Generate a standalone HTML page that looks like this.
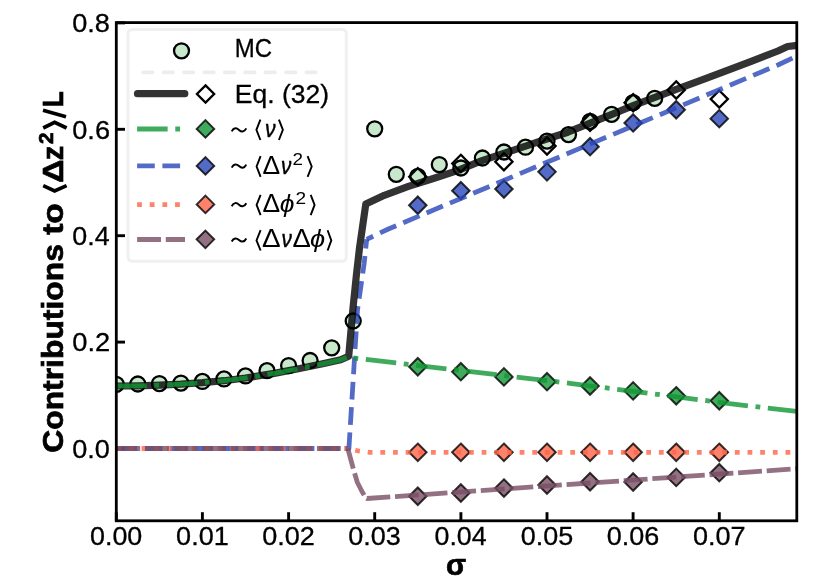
<!DOCTYPE html>
<html><head><meta charset="utf-8"><title>chart</title>
<style>html,body{margin:0;padding:0;background:#fff}svg{display:block;will-change:transform}text{font-family:"Liberation Sans",sans-serif;fill:#000;font-kerning:none}</style></head><body>
<svg width="830" height="579" viewBox="0 0 830 579">
<rect width="830" height="579" fill="#fff"/>
<defs><clipPath id="ax"><rect x="116.3" y="22.6" width="680.5" height="498.2"/></clipPath></defs>
<line x1="116.3" y1="520.9" x2="116.3" y2="512.2" stroke="#000" stroke-width="2.9"/>
<line x1="202.4" y1="520.9" x2="202.4" y2="512.2" stroke="#000" stroke-width="2.9"/>
<line x1="288.6" y1="520.9" x2="288.6" y2="512.2" stroke="#000" stroke-width="2.9"/>
<line x1="374.7" y1="520.9" x2="374.7" y2="512.2" stroke="#000" stroke-width="2.9"/>
<line x1="460.9" y1="520.9" x2="460.9" y2="512.2" stroke="#000" stroke-width="2.9"/>
<line x1="547.0" y1="520.9" x2="547.0" y2="512.2" stroke="#000" stroke-width="2.9"/>
<line x1="633.1" y1="520.9" x2="633.1" y2="512.2" stroke="#000" stroke-width="2.9"/>
<line x1="719.3" y1="520.9" x2="719.3" y2="512.2" stroke="#000" stroke-width="2.9"/>
<line x1="116.3" y1="448.5" x2="125.0" y2="448.5" stroke="#000" stroke-width="2.9"/>
<line x1="116.3" y1="342.1" x2="125.0" y2="342.1" stroke="#000" stroke-width="2.9"/>
<line x1="116.3" y1="235.7" x2="125.0" y2="235.7" stroke="#000" stroke-width="2.9"/>
<line x1="116.3" y1="129.3" x2="125.0" y2="129.3" stroke="#000" stroke-width="2.9"/>
<line x1="116.3" y1="22.9" x2="125.0" y2="22.9" stroke="#000" stroke-width="2.9"/>
<g clip-path="url(#ax)">
<path d="M417.79,358.03 L426.54,366.78 L417.79,375.53 L409.04,366.78 Z" fill="#129635" stroke="#000" stroke-width="2.0" stroke-linejoin="miter" stroke-opacity="0.8" fill-opacity="0.8"/>
<path d="M460.86,362.93 L469.61,371.68 L460.86,380.43 L452.11,371.68 Z" fill="#129635" stroke="#000" stroke-width="2.0" stroke-linejoin="miter" stroke-opacity="0.8" fill-opacity="0.8"/>
<path d="M503.93,368.14 L512.68,376.89 L503.93,385.64 L495.18,376.89 Z" fill="#129635" stroke="#000" stroke-width="2.0" stroke-linejoin="miter" stroke-opacity="0.8" fill-opacity="0.8"/>
<path d="M547.00,372.93 L555.75,381.68 L547.00,390.43 L538.25,381.68 Z" fill="#129635" stroke="#000" stroke-width="2.0" stroke-linejoin="miter" stroke-opacity="0.8" fill-opacity="0.8"/>
<path d="M590.07,377.24 L598.82,385.99 L590.07,394.74 L581.32,385.99 Z" fill="#129635" stroke="#000" stroke-width="2.0" stroke-linejoin="miter" stroke-opacity="0.8" fill-opacity="0.8"/>
<path d="M633.14,382.13 L641.89,390.88 L633.14,399.63 L624.39,390.88 Z" fill="#129635" stroke="#000" stroke-width="2.0" stroke-linejoin="miter" stroke-opacity="0.8" fill-opacity="0.8"/>
<path d="M676.21,387.08 L684.96,395.83 L676.21,404.58 L667.46,395.83 Z" fill="#129635" stroke="#000" stroke-width="2.0" stroke-linejoin="miter" stroke-opacity="0.8" fill-opacity="0.8"/>
<path d="M719.28,391.98 L728.03,400.73 L719.28,409.48 L710.53,400.73 Z" fill="#129635" stroke="#000" stroke-width="2.0" stroke-linejoin="miter" stroke-opacity="0.8" fill-opacity="0.8"/>
<path d="M417.79,196.47 L426.54,205.22 L417.79,213.97 L409.04,205.22 Z" fill="#2846b8" stroke="#000" stroke-width="2.0" stroke-linejoin="miter" stroke-opacity="0.8" fill-opacity="0.8"/>
<path d="M460.86,181.94 L469.61,190.69 L460.86,199.44 L452.11,190.69 Z" fill="#2846b8" stroke="#000" stroke-width="2.0" stroke-linejoin="miter" stroke-opacity="0.8" fill-opacity="0.8"/>
<path d="M503.93,180.24 L512.68,188.99 L503.93,197.74 L495.18,188.99 Z" fill="#2846b8" stroke="#000" stroke-width="2.0" stroke-linejoin="miter" stroke-opacity="0.8" fill-opacity="0.8"/>
<path d="M547.00,163.11 L555.75,171.86 L547.00,180.61 L538.25,171.86 Z" fill="#2846b8" stroke="#000" stroke-width="2.0" stroke-linejoin="miter" stroke-opacity="0.8" fill-opacity="0.8"/>
<path d="M590.07,137.95 L598.82,146.70 L590.07,155.45 L581.32,146.70 Z" fill="#2846b8" stroke="#000" stroke-width="2.0" stroke-linejoin="miter" stroke-opacity="0.8" fill-opacity="0.8"/>
<path d="M633.14,114.17 L641.89,122.92 L633.14,131.67 L624.39,122.92 Z" fill="#2846b8" stroke="#000" stroke-width="2.0" stroke-linejoin="miter" stroke-opacity="0.8" fill-opacity="0.8"/>
<path d="M676.21,100.97 L684.96,109.72 L676.21,118.47 L667.46,109.72 Z" fill="#2846b8" stroke="#000" stroke-width="2.0" stroke-linejoin="miter" stroke-opacity="0.8" fill-opacity="0.8"/>
<path d="M719.28,109.91 L728.03,118.66 L719.28,127.41 L710.53,118.66 Z" fill="#2846b8" stroke="#000" stroke-width="2.0" stroke-linejoin="miter" stroke-opacity="0.8" fill-opacity="0.8"/>
<path d="M417.79,443.58 L426.54,452.33 L417.79,461.08 L409.04,452.33 Z" fill="#ff6347" stroke="#000" stroke-width="2.0" stroke-linejoin="miter" stroke-opacity="0.8" fill-opacity="0.8"/>
<path d="M460.86,443.58 L469.61,452.33 L460.86,461.08 L452.11,452.33 Z" fill="#ff6347" stroke="#000" stroke-width="2.0" stroke-linejoin="miter" stroke-opacity="0.8" fill-opacity="0.8"/>
<path d="M503.93,443.58 L512.68,452.33 L503.93,461.08 L495.18,452.33 Z" fill="#ff6347" stroke="#000" stroke-width="2.0" stroke-linejoin="miter" stroke-opacity="0.8" fill-opacity="0.8"/>
<path d="M547.00,443.58 L555.75,452.33 L547.00,461.08 L538.25,452.33 Z" fill="#ff6347" stroke="#000" stroke-width="2.0" stroke-linejoin="miter" stroke-opacity="0.8" fill-opacity="0.8"/>
<path d="M590.07,443.58 L598.82,452.33 L590.07,461.08 L581.32,452.33 Z" fill="#ff6347" stroke="#000" stroke-width="2.0" stroke-linejoin="miter" stroke-opacity="0.8" fill-opacity="0.8"/>
<path d="M633.14,443.58 L641.89,452.33 L633.14,461.08 L624.39,452.33 Z" fill="#ff6347" stroke="#000" stroke-width="2.0" stroke-linejoin="miter" stroke-opacity="0.8" fill-opacity="0.8"/>
<path d="M676.21,443.58 L684.96,452.33 L676.21,461.08 L667.46,452.33 Z" fill="#ff6347" stroke="#000" stroke-width="2.0" stroke-linejoin="miter" stroke-opacity="0.8" fill-opacity="0.8"/>
<path d="M719.28,443.58 L728.03,452.33 L719.28,461.08 L710.53,452.33 Z" fill="#ff6347" stroke="#000" stroke-width="2.0" stroke-linejoin="miter" stroke-opacity="0.8" fill-opacity="0.8"/>
<path d="M417.79,487.47 L426.54,496.22 L417.79,504.97 L409.04,496.22 Z" fill="#784e64" stroke="#000" stroke-width="2.0" stroke-linejoin="miter" stroke-opacity="0.8" fill-opacity="0.8"/>
<path d="M460.86,484.23 L469.61,492.98 L460.86,501.73 L452.11,492.98 Z" fill="#784e64" stroke="#000" stroke-width="2.0" stroke-linejoin="miter" stroke-opacity="0.8" fill-opacity="0.8"/>
<path d="M503.93,479.33 L512.68,488.08 L503.93,496.83 L495.18,488.08 Z" fill="#784e64" stroke="#000" stroke-width="2.0" stroke-linejoin="miter" stroke-opacity="0.8" fill-opacity="0.8"/>
<path d="M547.00,476.25 L555.75,485.00 L547.00,493.75 L538.25,485.00 Z" fill="#784e64" stroke="#000" stroke-width="2.0" stroke-linejoin="miter" stroke-opacity="0.8" fill-opacity="0.8"/>
<path d="M590.07,473.00 L598.82,481.75 L590.07,490.50 L581.32,481.75 Z" fill="#784e64" stroke="#000" stroke-width="2.0" stroke-linejoin="miter" stroke-opacity="0.8" fill-opacity="0.8"/>
<path d="M633.14,473.27 L641.89,482.02 L633.14,490.77 L624.39,482.02 Z" fill="#784e64" stroke="#000" stroke-width="2.0" stroke-linejoin="miter" stroke-opacity="0.8" fill-opacity="0.8"/>
<path d="M676.21,468.64 L684.96,477.39 L676.21,486.14 L667.46,477.39 Z" fill="#784e64" stroke="#000" stroke-width="2.0" stroke-linejoin="miter" stroke-opacity="0.8" fill-opacity="0.8"/>
<path d="M719.28,463.96 L728.03,472.71 L719.28,481.46 L710.53,472.71 Z" fill="#784e64" stroke="#000" stroke-width="2.0" stroke-linejoin="miter" stroke-opacity="0.8" fill-opacity="0.8"/>
<circle cx="116.3" cy="384.3" r="7.5" fill="#c8e8cb" stroke="#000" stroke-width="2.3"/>
<circle cx="137.8" cy="384.0" r="7.5" fill="#c8e8cb" stroke="#000" stroke-width="2.3"/>
<circle cx="159.4" cy="383.6" r="7.5" fill="#c8e8cb" stroke="#000" stroke-width="2.3"/>
<circle cx="180.9" cy="383.1" r="7.5" fill="#c8e8cb" stroke="#000" stroke-width="2.3"/>
<circle cx="202.4" cy="381.4" r="7.5" fill="#c8e8cb" stroke="#000" stroke-width="2.3"/>
<circle cx="224.0" cy="378.9" r="7.5" fill="#c8e8cb" stroke="#000" stroke-width="2.3"/>
<circle cx="245.5" cy="375.9" r="7.5" fill="#c8e8cb" stroke="#000" stroke-width="2.3"/>
<circle cx="267.0" cy="370.7" r="7.5" fill="#c8e8cb" stroke="#000" stroke-width="2.3"/>
<circle cx="288.6" cy="365.6" r="7.5" fill="#c8e8cb" stroke="#000" stroke-width="2.3"/>
<circle cx="310.1" cy="360.5" r="7.5" fill="#c8e8cb" stroke="#000" stroke-width="2.3"/>
<circle cx="331.7" cy="347.8" r="7.5" fill="#c8e8cb" stroke="#000" stroke-width="2.3"/>
<circle cx="353.2" cy="321.0" r="7.5" fill="#c8e8cb" stroke="#000" stroke-width="2.3"/>
<circle cx="374.7" cy="128.8" r="7.5" fill="#c8e8cb" stroke="#000" stroke-width="2.3"/>
<circle cx="396.3" cy="174.3" r="7.5" fill="#c8e8cb" stroke="#000" stroke-width="2.3"/>
<circle cx="417.8" cy="176.3" r="7.5" fill="#c8e8cb" stroke="#000" stroke-width="2.3"/>
<circle cx="439.3" cy="164.6" r="7.5" fill="#c8e8cb" stroke="#000" stroke-width="2.3"/>
<circle cx="460.9" cy="168.0" r="7.5" fill="#c8e8cb" stroke="#000" stroke-width="2.3"/>
<circle cx="482.4" cy="158.0" r="7.5" fill="#c8e8cb" stroke="#000" stroke-width="2.3"/>
<circle cx="503.9" cy="152.0" r="7.5" fill="#c8e8cb" stroke="#000" stroke-width="2.3"/>
<circle cx="525.5" cy="147.2" r="7.5" fill="#c8e8cb" stroke="#000" stroke-width="2.3"/>
<circle cx="547.0" cy="141.1" r="7.5" fill="#c8e8cb" stroke="#000" stroke-width="2.3"/>
<circle cx="568.5" cy="134.6" r="7.5" fill="#c8e8cb" stroke="#000" stroke-width="2.3"/>
<circle cx="590.1" cy="121.3" r="7.5" fill="#c8e8cb" stroke="#000" stroke-width="2.3"/>
<circle cx="611.6" cy="114.3" r="7.5" fill="#c8e8cb" stroke="#000" stroke-width="2.3"/>
<circle cx="633.1" cy="102.7" r="7.5" fill="#c8e8cb" stroke="#000" stroke-width="2.3"/>
<circle cx="654.7" cy="98.3" r="7.5" fill="#c8e8cb" stroke="#000" stroke-width="2.3"/>
<path d="M417.79,168.05 L426.39,176.65 L417.79,185.25 L409.19,176.65 Z" fill="none" stroke="#000" stroke-width="2.3" stroke-linejoin="miter" />
<path d="M460.86,154.80 L469.46,163.40 L460.86,172.00 L452.26,163.40 Z" fill="none" stroke="#000" stroke-width="2.3" stroke-linejoin="miter" />
<path d="M503.93,153.10 L512.53,161.70 L503.93,170.30 L495.33,161.70 Z" fill="none" stroke="#000" stroke-width="2.3" stroke-linejoin="miter" />
<path d="M547.00,137.35 L555.60,145.95 L547.00,154.55 L538.40,145.95 Z" fill="none" stroke="#000" stroke-width="2.3" stroke-linejoin="miter" />
<path d="M590.07,113.62 L598.67,122.22 L590.07,130.82 L581.47,122.22 Z" fill="none" stroke="#000" stroke-width="2.3" stroke-linejoin="miter" />
<path d="M633.14,94.10 L641.74,102.70 L633.14,111.30 L624.54,102.70 Z" fill="none" stroke="#000" stroke-width="2.3" stroke-linejoin="miter" />
<path d="M676.21,81.39 L684.81,89.99 L676.21,98.59 L667.61,89.99 Z" fill="none" stroke="#000" stroke-width="2.3" stroke-linejoin="miter" />
<path d="M719.28,90.48 L727.88,99.08 L719.28,107.68 L710.68,99.08 Z" fill="none" stroke="#000" stroke-width="2.3" stroke-linejoin="miter" />
<polyline points="116.3,448.5 348.9,448.5 357.5,310.0 364.1,264.0 366.7,239.3" fill="none" stroke="#2846b8" stroke-opacity="0.8" stroke-width="4.78" stroke-linejoin="round" stroke-dasharray="17.67 7.64" stroke-dashoffset="22.04"/>
<polyline points="366.7,239.3 388.4,229.0 777.9,65.0 796.8,56.0" fill="none" stroke="#2846b8" stroke-opacity="0.8" stroke-width="4.78" stroke-linejoin="round" stroke-dasharray="17.67 7.64" stroke-dashoffset="10.48"/>
<polyline points="116.3,448.5 347.0,448.5" fill="none" stroke="#ff6347" stroke-opacity="0.8" stroke-width="4.78" stroke-linejoin="round" stroke-dasharray="4.78 7.88" stroke-dashoffset="0.00"/>
<polyline points="347.0,448.5 358.0,450.8 370.0,452.4 796.8,452.4" fill="none" stroke="#ff6347" stroke-opacity="0.8" stroke-width="4.78" stroke-linejoin="round" stroke-dasharray="4.78 7.88" stroke-dashoffset="4.26"/>
<polyline points="116.3,448.5 347.8,448.5" fill="none" stroke="#784e64" stroke-opacity="0.8" stroke-width="4.78" stroke-linejoin="round" stroke-dasharray="23.88 4.78" stroke-dashoffset="0.00"/>
<polyline points="347.8,448.5 353.9,471.0 357.4,482.5 362.0,491.5 365.6,497.6" fill="none" stroke="#784e64" stroke-opacity="0.8" stroke-width="4.78" stroke-linejoin="round" stroke-dasharray="23.88 4.78" stroke-dashoffset="2.93"/>
<polyline points="365.6,497.8 366.9,498.5 796.8,468.7" fill="none" stroke="#784e64" stroke-opacity="0.8" stroke-width="4.78" stroke-linejoin="round" stroke-dasharray="23.88 4.78" stroke-dashoffset="27.65"/>
<polyline points="116.3,386.0 137.8,385.8 159.4,385.2 180.9,384.2 202.4,382.7 224.0,380.7 245.5,378.0 256.0,376.3 274.2,373.4 298.4,368.8 322.6,363.8 340.7,359.8 348.7,356.2 353.0,308.0 356.4,275.0 359.5,248.0 365.8,204.1 384.3,195.3 408.4,186.4 432.6,178.7 456.7,170.8 482.0,160.7 525.6,146.1 546.7,139.0 567.8,132.2 590.2,123.2 611.3,114.7 633.1,105.6 654.2,97.6 676.3,89.3 702.7,79.6 730.0,69.3 751.2,61.3 777.9,51.0 787.6,46.5 795.3,45.6 801.1,45.2" fill="none" stroke="#000" stroke-opacity="0.8" stroke-width="7.2" stroke-linejoin="round" stroke-linecap="butt"/>
<polyline points="116.3,386.0 137.8,385.8 159.4,385.2 180.9,384.2 202.4,382.7 224.0,380.7 245.5,378.0 256.0,376.3 274.2,373.4 298.4,368.8 322.6,363.8 340.7,359.8 348.7,356.6" fill="none" stroke="#129635" stroke-opacity="0.8" stroke-width="4.78" stroke-linejoin="round" stroke-dasharray="30.56 7.64 4.78 7.64" stroke-dashoffset="0.12"/>
<polyline points="351.1,357.7 570.0,383.3 737.7,404.6 796.8,411.5" fill="none" stroke="#129635" stroke-opacity="0.8" stroke-width="4.78" stroke-linejoin="round" stroke-dasharray="30.56 7.64 4.78 7.64" stroke-dashoffset="35.80"/>
</g>
<rect x="116.3" y="22.6" width="680.5" height="498.2" fill="none" stroke="#000" stroke-width="2.8"/>
<text transform="translate(89.95,545.10) scale(1.0600,1)" font-size="25.40" stroke="#000" stroke-width="0.3">0.00</text>
<text transform="translate(176.08,545.10) scale(1.0656,1)" font-size="25.40" stroke="#000" stroke-width="0.3">0.01</text>
<text transform="translate(262.22,545.10) scale(1.0664,1)" font-size="25.40" stroke="#000" stroke-width="0.3">0.02</text>
<text transform="translate(348.37,545.10) scale(1.0628,1)" font-size="25.40" stroke="#000" stroke-width="0.3">0.03</text>
<text transform="translate(434.51,545.10) scale(1.0545,1)" font-size="25.40" stroke="#000" stroke-width="0.3">0.04</text>
<text transform="translate(520.65,545.10) scale(1.0617,1)" font-size="25.40" stroke="#000" stroke-width="0.3">0.05</text>
<text transform="translate(606.79,545.10) scale(1.0628,1)" font-size="25.40" stroke="#000" stroke-width="0.3">0.06</text>
<text transform="translate(692.92,545.10) scale(1.0664,1)" font-size="25.40" stroke="#000" stroke-width="0.3">0.07</text>
<text transform="translate(72.24,457.70) scale(1.0653,1)" font-size="25.40" stroke="#000" stroke-width="0.3">0.0</text>
<text transform="translate(72.23,351.30) scale(1.0745,1)" font-size="25.40" stroke="#000" stroke-width="0.3">0.2</text>
<text transform="translate(72.25,244.90) scale(1.0574,1)" font-size="25.40" stroke="#000" stroke-width="0.3">0.4</text>
<text transform="translate(72.24,138.50) scale(1.0692,1)" font-size="25.40" stroke="#000" stroke-width="0.3">0.6</text>
<text transform="translate(72.24,32.10) scale(1.0688,1)" font-size="25.40" stroke="#000" stroke-width="0.3">0.8</text>
<text transform="translate(446.05,575.40) scale(0.9972,1)" font-size="29.50" font-weight="bold" stroke="#000" stroke-width="0.7">σ</text>
<g transform="translate(63.3,0) rotate(-90)">
<text transform="translate(-452.81,0.00) scale(1.0800,1)" font-size="29.50" font-weight="bold" stroke="#000" stroke-width="0.7">Contributions</text>
<text transform="translate(-234.81,0.00) scale(1.1355,1)" font-size="29.50" font-weight="bold" stroke="#000" stroke-width="0.7">to</text>
<text transform="translate(-182.80,0.00) scale(1.0906,1)" font-size="29.50" font-weight="bold" stroke="#000" stroke-width="0.7">Δ</text>
<text transform="translate(-160.25,0.00) scale(0.9758,1)" font-size="29.50" font-weight="bold" stroke="#000" stroke-width="0.7">z</text>
<text transform="translate(-144.12,-10.00) scale(1.0083,1)" font-size="20.60" font-weight="bold" stroke="#000" stroke-width="0.7">2</text>
<text transform="translate(-107.16,0.00) scale(0.8917,1)" font-size="29.50" font-weight="bold" stroke="#000" stroke-width="0.7">L</text>
</g>
<polyline points="43.2,185.6 54.6,190.9 66.6,185.6" fill="none" stroke="#000" stroke-width="3.7" stroke-linejoin="miter"/>
<polyline points="43.2,128.0 54.6,122.4 66.6,128.0" fill="none" stroke="#000" stroke-width="3.7" stroke-linejoin="miter"/>
<line x1="43.0" y1="110.3" x2="66.0" y2="116.7" stroke="#000" stroke-width="3.6"/>
<rect x="128.0" y="29.4" width="218.3" height="231.9" rx="4.2" ry="4.2" fill="#fff" fill-opacity="0.5" stroke="#f0f0f0" stroke-width="3"/>
<circle cx="181.5" cy="50.8" r="7.5" fill="#c8e8cb" stroke="#000" stroke-width="2.3"/>
<line x1="143.1" y1="72.4" x2="317.0" y2="72.4" stroke="#ededed" stroke-width="3.6" stroke-linecap="round" stroke-dasharray="9.6 10.8"/>
<line x1="137.5" y1="93.7" x2="184.8" y2="93.7" stroke="#000" stroke-opacity="0.8" stroke-width="7.2" stroke-linecap="round"/>
<path d="M205.55,85.35 L214.15,93.95 L205.55,102.55 L196.95,93.95 Z" fill="#fff" stroke="#000" stroke-width="2.3" stroke-linejoin="miter" />
<line x1="137.1" y1="129.0" x2="185.0" y2="129.0" stroke="#129635" stroke-opacity="0.8" stroke-width="4.78" stroke-dasharray="30.56 7.64 4.78 7.64"/>
<path d="M205.45,120.15 L214.20,128.90 L205.45,137.65 L196.70,128.90 Z" fill="#129635" stroke="#000" stroke-width="2.0" stroke-linejoin="miter" stroke-opacity="0.8" fill-opacity="0.8"/>
<line x1="137.1" y1="165.8" x2="185.0" y2="165.8" stroke="#2846b8" stroke-opacity="0.8" stroke-width="4.78" stroke-dasharray="17.67 7.64"/>
<path d="M205.45,157.15 L214.20,165.90 L205.45,174.65 L196.70,165.90 Z" fill="#2846b8" stroke="#000" stroke-width="2.0" stroke-linejoin="miter" stroke-opacity="0.8" fill-opacity="0.8"/>
<line x1="137.1" y1="204.6" x2="185.0" y2="204.6" stroke="#ff6347" stroke-opacity="0.8" stroke-width="4.78" stroke-dasharray="4.78 7.88"/>
<path d="M205.45,195.65 L214.20,204.40 L205.45,213.15 L196.70,204.40 Z" fill="#ff6347" stroke="#000" stroke-width="2.0" stroke-linejoin="miter" stroke-opacity="0.8" fill-opacity="0.8"/>
<line x1="137.1" y1="239.5" x2="185.0" y2="239.5" stroke="#784e64" stroke-opacity="0.8" stroke-width="4.78" stroke-dasharray="23.88 4.78"/>
<path d="M205.40,230.60 L214.15,239.35 L205.40,248.10 L196.65,239.35 Z" fill="#784e64" stroke="#000" stroke-width="2.0" stroke-linejoin="miter" stroke-opacity="0.8" fill-opacity="0.8"/>
<text transform="translate(234.73,56.90) scale(0.9437,1)" font-size="25.40" stroke="#000" stroke-width="0.3">MC</text>
<text transform="translate(234.83,102.85) scale(1.0428,1)" font-size="25.40" stroke="#000" stroke-width="0.3">Eq. (32)</text>
<path d="M231.70,131.40 C233.80,127.40 236.60,127.70 239.00,129.90 S244.20,132.40 246.30,128.40" fill="none" stroke="#000" stroke-width="2.0"/>
<polyline points="260.4,119.6 256.4,129.8 260.4,140.0" fill="none" stroke="#000" stroke-width="1.9" stroke-linejoin="miter"/>
<text transform="translate(264.88,137.10) scale(0.8687,1)" font-size="24.30" font-style="italic" stroke="#000" stroke-width="0.45">ν</text>
<polyline points="278.9,119.6 282.9,129.8 278.9,140.0" fill="none" stroke="#000" stroke-width="1.9" stroke-linejoin="miter"/>
<path d="M231.70,167.60 C233.80,163.60 236.60,163.90 239.00,166.10 S244.20,168.60 246.30,164.60" fill="none" stroke="#000" stroke-width="2.0"/>
<polyline points="260.6,156.2 256.6,166.5 260.6,176.8" fill="none" stroke="#000" stroke-width="1.9" stroke-linejoin="miter"/>
<text transform="translate(262.51,173.70) scale(1.0427,1)" font-size="25.40">Δ</text>
<text transform="translate(281.10,173.70) scale(0.8502,1)" font-size="24.30" font-style="italic" stroke="#000" stroke-width="0.45">ν</text>
<text transform="translate(292.55,164.50) scale(1.1237,1)" font-size="16.80">2</text>
<polyline points="307.6,156.2 311.7,166.5 307.6,176.8" fill="none" stroke="#000" stroke-width="1.9" stroke-linejoin="miter"/>
<path d="M231.70,206.20 C233.80,202.20 236.60,202.50 239.00,204.70 S244.20,207.20 246.30,203.20" fill="none" stroke="#000" stroke-width="2.0"/>
<polyline points="260.6,194.8 256.6,204.9 260.6,215.1" fill="none" stroke="#000" stroke-width="1.9" stroke-linejoin="miter"/>
<text transform="translate(262.51,212.30) scale(1.0427,1)" font-size="25.40">Δ</text>
<text transform="translate(279.65,212.30) scale(1.0880,1)" font-size="24.30" font-style="italic">ϕ</text>
<text transform="translate(295.54,203.60) scale(1.1367,1)" font-size="16.80">2</text>
<polyline points="310.7,194.8 314.6,204.9 310.7,215.1" fill="none" stroke="#000" stroke-width="1.9" stroke-linejoin="miter"/>
<path d="M231.70,241.50 C233.80,237.50 236.60,237.80 239.00,240.00 S244.20,242.50 246.30,238.50" fill="none" stroke="#000" stroke-width="2.0"/>
<polyline points="260.6,230.2 256.5,240.4 260.6,250.5" fill="none" stroke="#000" stroke-width="1.9" stroke-linejoin="miter"/>
<text transform="translate(261.97,247.30) scale(1.1010,1)" font-size="25.40">Δ</text>
<text transform="translate(281.50,247.30) scale(0.8502,1)" font-size="24.30" font-style="italic" stroke="#000" stroke-width="0.45">ν</text>
<text transform="translate(292.38,247.30) scale(1.0815,1)" font-size="25.40">Δ</text>
<text transform="translate(310.02,247.30) scale(1.1215,1)" font-size="24.30" font-style="italic">ϕ</text>
<polyline points="327.6,230.2 331.3,240.4 327.6,250.5" fill="none" stroke="#000" stroke-width="1.9" stroke-linejoin="miter"/>
</svg></body></html>
